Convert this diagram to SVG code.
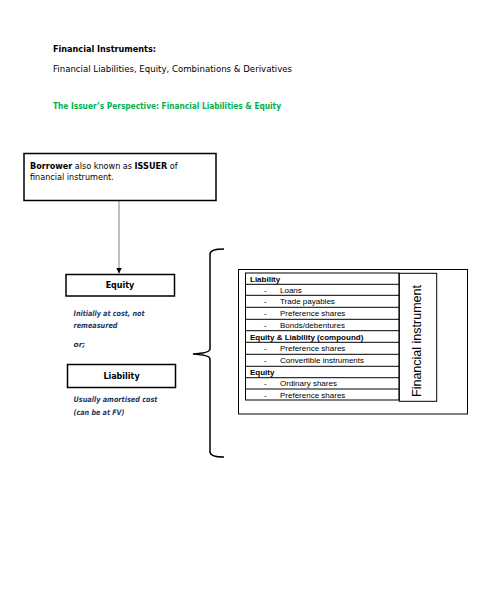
<svg xmlns="http://www.w3.org/2000/svg" width="487" height="592" viewBox="0 0 487 592">
<style>
.g{font-family:"DejaVu Sans","Liberation Sans",sans-serif;fill:#000}
.b{font-weight:bold}
.it{font-family:"DejaVu Sans","Liberation Sans",sans-serif;font-style:italic;font-weight:bold;font-size:7.5px;fill:#1f3864}
.box{fill:#fff;stroke:#000;stroke-width:1.5}
.tb{fill:none;stroke:#000;stroke-width:1}
.c{font-family:"Liberation Sans",Arial,sans-serif;font-size:8px;fill:#000}
</style>
<defs>
<marker id="ah" viewBox="0 0 10 10" refX="10" refY="5" markerWidth="6" markerHeight="6" markerUnits="userSpaceOnUse" orient="auto"><path d="M0,0 L10,5 L0,10 z" fill="#000"/></marker>
</defs>
<rect width="487" height="592" fill="#fff"/>
<g id="titles">
<text class="g b" x="53" y="52" font-size="9.5" textLength="103" lengthAdjust="spacingAndGlyphs">Financial Instruments:</text>
<text class="g" x="53" y="72" font-size="9" textLength="239" lengthAdjust="spacingAndGlyphs">Financial Liabilities, Equity, Combinations &amp; Derivatives</text>
<text class="g b" x="53" y="109" font-size="9" style="fill:#00b050" textLength="228" lengthAdjust="spacingAndGlyphs">The Issuer’s Perspective: Financial Liabilities &amp; Equity</text>
</g>
<g id="connectors">
<line x1="119" y1="201" x2="119" y2="273.5" stroke="#808080" stroke-width="1" marker-end="url(#ah)"/>
<path d="M224,249 Q210,249 210,254 L210,349 Q210,353 193,354 Q210,355 210,359 L210,452 Q210,457 224,457" fill="none" stroke="#000" stroke-width="1.5"/>
</g>
<g id="borrower">
<rect class="box" x="24" y="153.5" width="192" height="47"/>
<text class="g" x="30" y="168.5" font-size="8.1"><tspan class="b">Borrower</tspan> also known as <tspan class="b">ISSUER</tspan> of</text>
<text class="g" x="30" y="179.5" font-size="8.1">financial instrument.</text>
</g>
<g id="equity">
<rect class="box" x="66" y="274.5" width="108.5" height="21.5"/>
<text class="g b" x="120" y="288" font-size="8" text-anchor="middle">Equity</text>
<text class="it" x="73.5" y="316" textLength="71" lengthAdjust="spacingAndGlyphs">Initially at cost, not</text>
<text class="it" x="73.5" y="328" textLength="44" lengthAdjust="spacingAndGlyphs">remeasured</text>
<text class="it" x="73.5" y="347">or;</text>
</g>
<g id="liability">
<rect class="box" x="67.5" y="364.5" width="108" height="23"/>
<text class="g b" x="121.5" y="379" font-size="8" text-anchor="middle">Liability</text>
<text class="it" x="73.5" y="402" textLength="84" lengthAdjust="spacingAndGlyphs">Usually amortised cost</text>
<text class="it" x="73.5" y="415" textLength="51" lengthAdjust="spacingAndGlyphs">(can be at FV)</text>
</g>
<g id="instrument-table">
<rect class="tb" x="238.5" y="269.5" width="229" height="144.5"/>
<rect class="tb" x="245.5" y="273" width="153.5" height="127"/>
<path class="tb" d="M245.5,284.3H399M245.5,295.3H399M245.5,307.3H399M245.5,319.3H399M245.5,330.7H399M245.5,342.3H399M245.5,354.3H399M245.5,366.3H399M245.5,377.7H399M245.5,389H399"/>
<rect class="tb" x="399.3" y="273.3" width="37.4" height="128"/>
<text class="c b" x="250" y="281.8">Liability</text>
<text class="c" x="264" y="292.8">-</text><text class="c" x="280" y="292.8">Loans</text>
<text class="c" x="264" y="304.3">-</text><text class="c" x="280" y="304.3">Trade payables</text>
<text class="c" x="264" y="316.3">-</text><text class="c" x="280" y="316.3">Preference shares</text>
<text class="c" x="264" y="328">-</text><text class="c" x="280" y="328">Bonds/debentures</text>
<text class="c b" x="250" y="339.5">Equity &amp; Liability (compound)</text>
<text class="c" x="264" y="351.3">-</text><text class="c" x="280" y="351.3">Preference shares</text>
<text class="c" x="264" y="363.3">-</text><text class="c" x="280" y="363.3">Convertible instruments</text>
<text class="c b" x="250" y="374.8">Equity</text>
<text class="c" x="264" y="386.3">-</text><text class="c" x="280" y="386.3">Ordinary shares</text>
<text class="c" x="264" y="397.5">-</text><text class="c" x="280" y="397.5">Preference shares</text>
<text class="c" x="0" y="0" text-anchor="middle" transform="translate(421,341) rotate(-90)" textLength="112" lengthAdjust="spacingAndGlyphs" style="font-size:12.5px">Financial instrument</text>
</g>
</svg>
